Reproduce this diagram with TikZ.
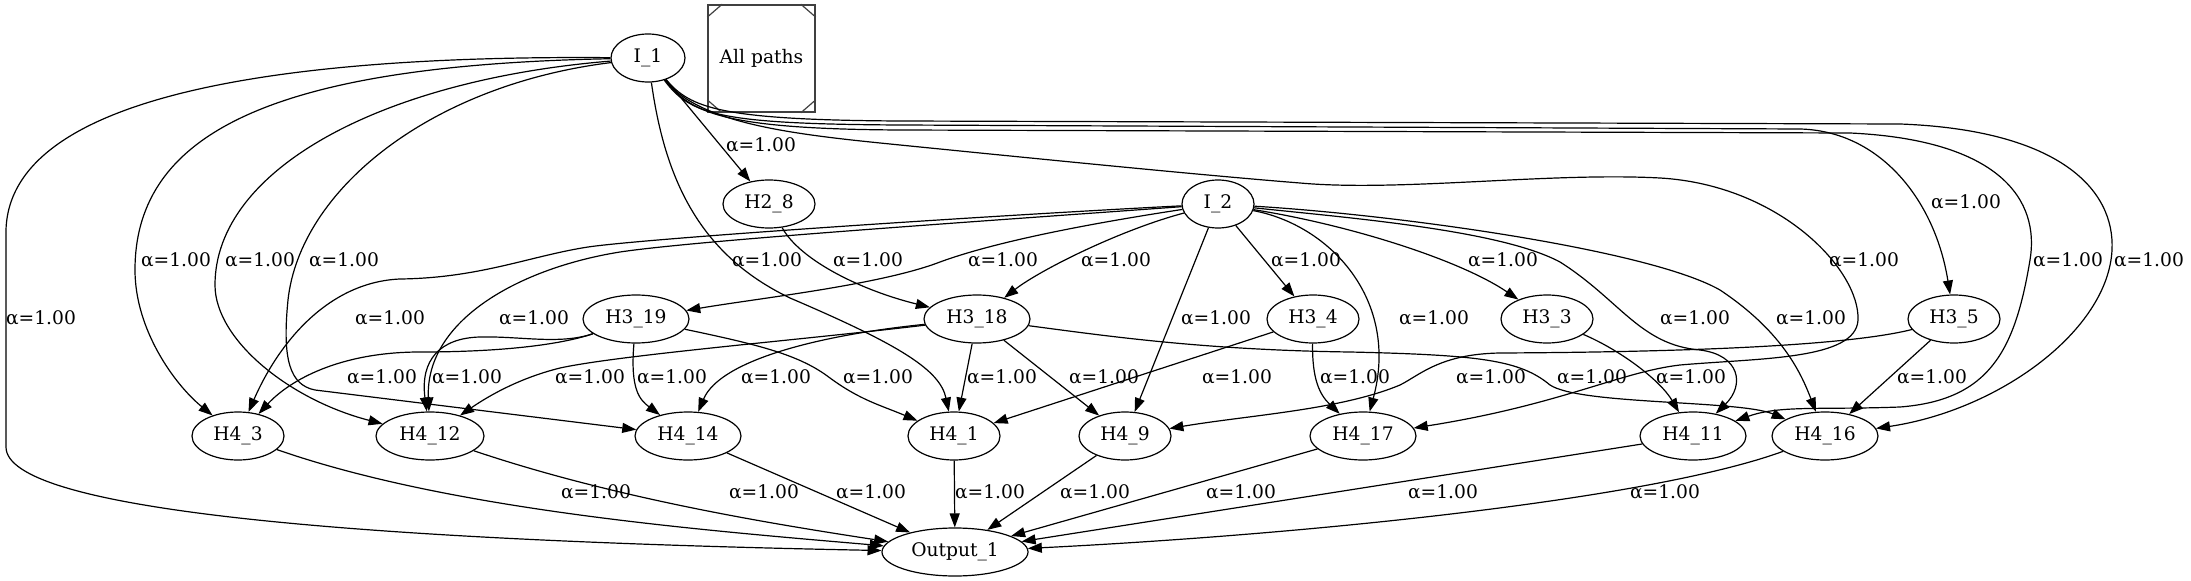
\documentclass[tikz,border=0pt]{standalone}
\usepackage{fontspec}
\setmainfont{DejaVu Serif}
\usetikzlibrary{shapes.geometric,arrows.meta}

\begin{document}
\begin{tikzpicture}[x=0.75pt,y=-0.75pt,
  every node/.style={font=\fontsize{14}{16}\selectfont},
  nd/.style={ellipse,draw,line width=0.9pt,inner sep=0pt,minimum height=36pt,minimum width=69pt},
  wd/.style={nd,minimum width=79.5pt},
  e/.style={line width=0.9pt,-{Triangle[length=10.5pt,width=7.5pt]}},
  lbl/.style={inner sep=0pt}]

\useasboundingbox (0,0) rectangle (2191,581);

% nodes
\node[nd,minimum width=55.5pt] (I1) at (648,58) {I\_1};
\node[nd,minimum width=54pt] (I2) at (1218,204) {I\_2};
\node[nd] (H28) at (769,204) {H2\_8};
\node[wd] (H319) at (636,319) {H3\_19};
\node[wd] (H318) at (977,319) {H3\_18};
\node[nd] (H34) at (1313,319) {H3\_4};
\node[nd] (H33) at (1547,319) {H3\_3};
\node[nd] (H35) at (1954,319) {H3\_5};
\node[nd] (H43) at (238,436) {H4\_3};
\node[wd,minimum width=81pt] (H412) at (430,436) {H4\_12};
\node[wd] (H414) at (688,436) {H4\_14};
\node[nd] (H41) at (954,436) {H4\_1};
\node[nd] (H49) at (1125,436) {H4\_9};
\node[wd] (H417) at (1363,436) {H4\_17};
\node[wd] (H411) at (1693,436) {H4\_11};
\node[wd] (H416) at (1825,436) {H4\_16};
\node[nd,minimum width=109.5pt] (Out) at (955,552) {Output\_1};

% legend box
\node[draw=black!75,line width=1.2pt,minimum width=80.25pt,minimum height=80.25pt,inner sep=0pt] (ap) at (761.5,58.5) {All paths};
\draw[black!75,line width=0.9pt] ([yshift=-9.75pt]ap.north west) -- ([xshift=11.25pt]ap.north west);
\draw[black!75,line width=0.9pt] ([yshift=-9.75pt]ap.north east) -- ([xshift=-11.25pt]ap.north east);
\draw[black!75,line width=0.9pt] ([yshift=9.75pt]ap.south west) -- ([xshift=11.25pt]ap.south west);
\draw[black!75,line width=0.9pt] ([yshift=9.75pt]ap.south east) -- ([xshift=-11.25pt]ap.south east);

% from I_1
\draw[e] (I1) -- (H28);
\draw[e] (I1) .. controls (300,55) and (10,90) .. (6,230) -- (6,447) .. controls (6,510) and (350,540) .. (Out);
\draw[e] (I1) .. controls (280,65) and (135,130) .. (135,270) .. controls (135,330) and (175,385) .. (H43);
\draw[e] (I1) .. controls (380,80) and (215,170) .. (215,285) .. controls (215,340) and (290,400) .. (H412);
\draw[e] (I1) .. controls (430,85) and (300,190) .. (288,300) .. controls (282,360) and (290,385) .. (315,390) -- (H414);
\draw[e] (I1) .. controls (665,180) and (700,255) .. (790,298) .. controls (900,345) and (940,370) .. (H41);
\draw[e] (I1) .. controls (690,115) and (720,124) .. (900,125) -- (1800,129) .. controls (1880,131) and (1935,200) .. (H35);
\draw[e] (I1) .. controls (690,112) and (720,129) .. (900,130) -- (1850,133) .. controls (2000,140) and (2040,200) .. (2030,260) .. controls (2015,350) and (1990,400) .. (1900,407) .. controls (1820,410) and (1780,405) .. (H411);
\draw[e] (I1) .. controls (690,108) and (720,120) .. (900,121) -- (1900,124) .. controls (2060,130) and (2115,190) .. (2112,250) .. controls (2108,330) and (2000,410) .. (H416);
\draw[e] (I1) .. controls (700,125) and (800,135) .. (900,145) .. controls (1050,160) and (1200,175) .. (1300,183) .. controls (1400,192) and (1550,172) .. (1660,178) .. controls (1780,185) and (1860,270) .. (1858,320) .. controls (1856,360) and (1760,358) .. (1680,365) .. controls (1620,372) and (1560,405) .. (H417);

% from I_2
\draw[e] (I2) .. controls (1100,222) and (1000,240) .. (940,262) .. controls (880,285) and (760,298) .. (H319);
\draw[e] (I2) .. controls (1120,230) and (1040,270) .. (H318);
\draw[e] (I2) .. controls (1000,215) and (650,238) .. (588,247) .. controls (530,256) and (480,278) .. (400,279) .. controls (330,282) and (280,340) .. (H43);
\draw[e] (I2) .. controls (1000,220) and (700,240) .. (620,252) .. controls (520,268) and (425,320) .. (H412);
\draw[e] (I2) -- (H49);
\draw[e] (I2) -- (H34);
\draw[e] (I2) .. controls (1330,225) and (1400,300) .. (H417);
\draw[e] (I2) .. controls (1350,225) and (1460,260) .. (H33);
\draw[e] (I2) .. controls (1350,218) and (1500,230) .. (1560,262) .. controls (1620,300) and (1640,345) .. (1700,350) .. controls (1740,355) and (1745,385) .. (H411);
\draw[e] (I2) .. controls (1400,215) and (1650,250) .. (1720,290) .. controls (1780,330) and (1800,370) .. (H416);

% third layer
\draw[e] (H28) .. controls (800,260) and (860,290) .. (H318);
\draw[e] (H319) .. controls (560,345) and (500,352) .. (420,352) .. controls (340,352) and (290,380) .. (H43);
\draw[e] (H319) .. controls (560,345) and (520,336) .. (480,337) .. controls (440,338) and (420,360) .. (H412);
\draw[e] (H319) .. controls (630,390) and (640,400) .. (H414);
\draw[e] (H319) .. controls (760,345) and (800,355) .. (830,378) .. controls (860,400) and (880,405) .. (H41);
\draw[e] (H318) .. controls (800,340) and (620,355) .. (560,368) .. controls (520,378) and (490,395) .. (H412);
\draw[e] (H318) .. controls (820,335) and (720,360) .. (H414);
\draw[e] (H318) -- (H41);
\draw[e] (H318) -- (H49);
\draw[e] (H318) .. controls (1100,335) and (1200,350) .. (1350,352) .. controls (1480,355) and (1520,360) .. (1550,385) .. controls (1580,405) and (1740,400) .. (H416);
\draw[e] (H34) -- (H41);
\draw[e] (H34) .. controls (1312,380) and (1320,395) .. (H417);
\draw[e] (H33) .. controls (1620,350) and (1660,380) .. (H411);
\draw[e] (H35) .. controls (1850,345) and (1700,352) .. (1500,353) .. controls (1440,354) and (1420,375) .. (1400,385) .. controls (1340,410) and (1250,415) .. (H49);
\draw[e] (H35) -- (H416);

% into output
\draw[e] (H43) .. controls (450,510) and (700,530) .. (Out);
\draw[e] (H412) .. controls (620,500) and (780,525) .. (Out);
\draw[e] (H414) -- (Out);
\draw[e] (H41) -- (Out);
\draw[e] (H49) -- (Out);
\draw[e] (H417) -- (Out);
\draw[e] (H411) -- (Out);
\draw[e] (H416) .. controls (1650,500) and (1300,535) .. (Out);

% edge labels
\foreach \x/\y [count=\k] in {761/145, 1966/202,
  176/260, 260/260, 344/260, 767/260, 868/260, 1003/260, 1116/260, 1306/260, 1503/260, 1864/260, 2068/260, 2149/260,
  41/318, 390/318, 534/318, 1216/318, 1434/318, 1695/318, 1811/318,
  382/377, 467/377, 590/377, 672/377, 776/377, 878/377, 1002/377, 1104/377, 1237/377, 1355/377, 1491/377, 1592/377, 1691/377, 1932/377,
  596/492, 764/492, 871/492, 990/492, 1095/492, 1241/492, 1443/492, 1665/492}
  \node[lbl] (l\k) at (\x,\y) {α=1.00};

\end{tikzpicture}
\end{document}
